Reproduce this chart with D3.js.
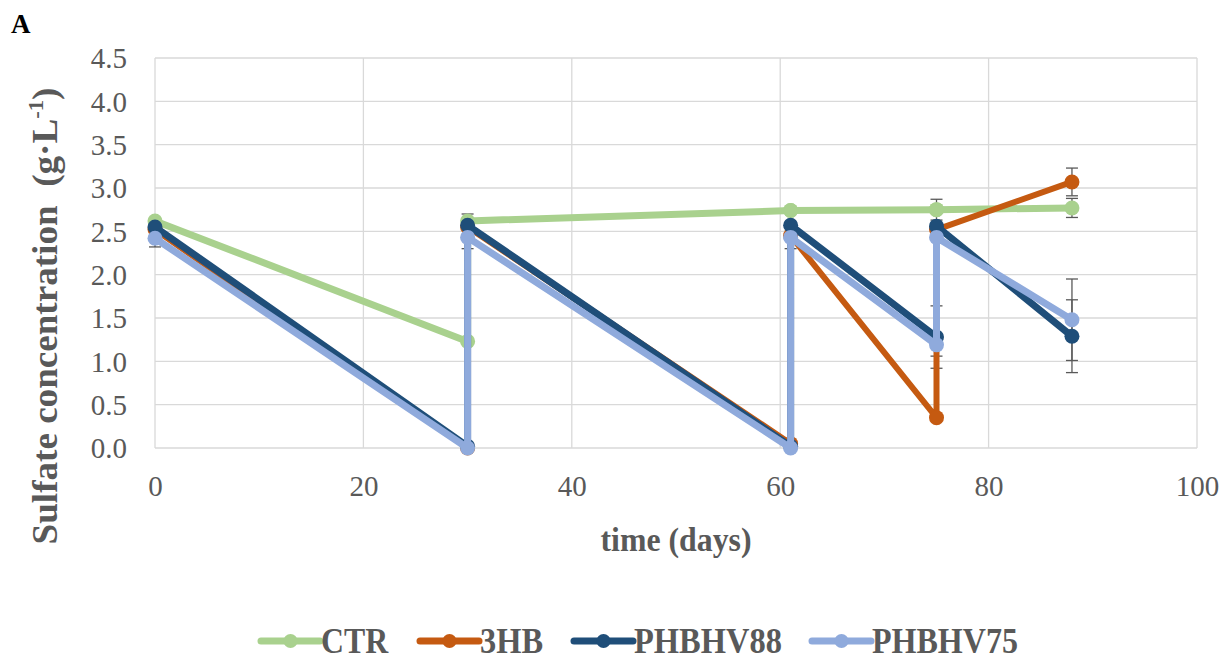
<!DOCTYPE html>
<html lang="en">
<head>
<meta charset="UTF-8">
<title>Sulfate concentration</title>
<style>
    body { margin: 0; background: #fff; }
    svg text { font-family: "Liberation Serif", "Times New Roman", serif; }
</style>
</head>
<body>
<svg id="chart" width="1224" height="661"></svg>
<script src="https://cdn.jsdelivr.net/npm/d3@7"></script>
<script>
    // sampling times (days); repeated times mark the re-feeding jumps
    const times = [0, 30, 30, 61, 61, 75, 75, 88];

    const ctr     = [2.62, 1.23, 2.62, 2.74, 2.74, 2.75, 2.75, 2.77];
    const hb3     = [2.52, 0.00, 2.55, 0.05, 2.45, 0.35, 2.52, 3.07];
    const phbhv88 = [2.55, 0.02, 2.57, 0.02, 2.57, 1.28, 2.56, 1.29];
    const phbhv75 = [2.42, 0.00, 2.43, 0.00, 2.43, 1.19, 2.43, 1.48];

    // standard deviations (0 = no visible bar)
    const ctrErr     = [0, 0, 0.08, 0, 0, 0.12, 0, 0.11];
    const hb3Err     = [0, 0, 0, 0, 0, 0, 0, 0.16];
    const phbhv88Err = [0, 0, 0, 0, 0, 0.36, 0, 0.42];
    const phbhv75Err = [0.10, 0, 0.13, 0, 0.13, 0.13, 0, 0.47];

    const seriesNames = ["CTR", "3HB", "PHBHV88", "PHBHV75"];
    const seriesColors = ["#a9d18e", "#c55a11", "#1f4e79", "#8faadc"];

    const xTicks = [0, 20, 40, 60, 80, 100];
    const yTicks = [0, 0.5, 1, 1.5, 2, 2.5, 3, 3.5, 4, 4.5];

    const series = [
        { name: seriesNames[0], color: seriesColors[0], values: ctr, err: ctrErr, width: 7 },
        { name: seriesNames[1], color: seriesColors[1], values: hb3, err: hb3Err, width: 6 },
        { name: seriesNames[2], color: seriesColors[2], values: phbhv88, err: phbhv88Err, width: 7 },
        { name: seriesNames[3], color: seriesColors[3], values: phbhv75, err: phbhv75Err, width: 7 }
    ];

    const svg = d3.select("#chart");
    const x = d3.scaleLinear().domain([0, 100]).range([155, 1197]);
    const y = d3.scaleLinear().domain([0, 4.5]).range([448, 58]);
    const grey = "#595959";
    const serif = '"Liberation Serif", "Times New Roman", serif';

    // gridlines
    svg.append("g").selectAll("line").data(yTicks).join("line")
        .attr("x1", x(0)).attr("x2", x(100))
        .attr("y1", d => y(d)).attr("y2", d => y(d))
        .attr("stroke", "#d9d9d9").attr("stroke-width", 1.3);
    svg.append("g").selectAll("line").data(xTicks).join("line")
        .attr("x1", d => x(d)).attr("x2", d => x(d))
        .attr("y1", y(0)).attr("y2", y(4.5))
        .attr("stroke", "#d9d9d9").attr("stroke-width", 1.3);

    // axes (labels only)
    const yAxis = svg.append("g")
        .attr("transform", `translate(${x(0)},0)`)
        .call(d3.axisLeft(y).tickValues(yTicks).tickFormat(d3.format(".1f")).tickSize(0).tickPadding(28));
    const xAxis = svg.append("g")
        .attr("transform", `translate(0,${y(0)})`)
        .call(d3.axisBottom(x).tickValues(xTicks).tickSize(0).tickPadding(27));
    [xAxis, yAxis].forEach(a => {
        a.attr("font-family", serif).attr("font-size", 29);
        a.select(".domain").remove();
        a.selectAll("text")
            .attr("fill", grey)
            .attr("font-family", serif)
            .attr("font-size", 29);
    });
    yAxis.selectAll("text").attr("dy", "0.34em");

    // error bars behind the lines
    const errG = svg.append("g");
    series.forEach(s => {
        s.values.forEach((v, i) => {
            const e = s.err[i];
            if (!e) return;
            const cx = x(times[i]);
            errG.append("line")
                .attr("x1", cx).attr("x2", cx)
                .attr("y1", y(v - e)).attr("y2", y(v + e))
                .attr("stroke", grey).attr("stroke-width", 1.3);
            [v - e, v + e].forEach(t => {
                errG.append("line")
                    .attr("x1", cx - 6).attr("x2", cx + 6)
                    .attr("y1", y(t)).attr("y2", y(t))
                    .attr("stroke", grey).attr("stroke-width", 1.3);
            });
        });
    });

    const line = d3.line()
        .x((d, i) => x(times[i]))
        .y(d => y(d));

    series.forEach(s => {
        const g = svg.append("g");
        g.append("path")
            .attr("d", line(s.values))
            .attr("fill", "none")
            .attr("stroke", s.color)
            .attr("stroke-width", s.width)
            .attr("stroke-linejoin", "round");
        g.selectAll("circle").data(s.values).join("circle")
            .attr("cx", (d, i) => x(times[i]))
            .attr("cy", d => y(d))
            .attr("r", 7.5)
            .attr("fill", s.color);
    });

    // fit a text element to a target width by horizontal scaling
    function fitText(sel, width, tx, ty, rot) {
        const w = sel.node().getBBox().width;
        sel.attr("transform", `translate(${tx},${ty}) rotate(${rot}) scale(${width / w},1)`);
    }

    // panel letter
    svg.append("text")
        .attr("x", 11).attr("y", 33)
        .attr("font-size", 27).attr("font-weight", "bold")
        .attr("fill", "#000")
        .text("A");

    // y title
    const yTitle = svg.append("text")
        .attr("text-anchor", "middle")
        .attr("font-size", 36).attr("font-weight", "bold")
        .attr("fill", grey);
    yTitle.append("tspan").text("Sulfate concentration \u00a0(g\u00b7L");
    yTitle.append("tspan").attr("font-size", 22).attr("dy", -14).text("-1");
    yTitle.append("tspan").attr("dy", 14).text(")");
    fitText(yTitle, 457, 57, 316, -90);

    // x title
    const xTitle = svg.append("text")
        .attr("text-anchor", "middle")
        .attr("font-size", 33).attr("font-weight", "bold")
        .attr("fill", grey)
        .text("time (days)");
    fitText(xTitle, 151, 676, 551, 0);

    // legend
    const legendX = [261, 420, 574, 812];
    const legendW = [68, 63, 148, 146];
    const ly = 641;
    series.forEach((s, i) => {
        const g = svg.append("g");
        g.append("line")
            .attr("x1", legendX[i]).attr("x2", legendX[i] + 59)
            .attr("y1", ly).attr("y2", ly)
            .attr("stroke", s.color).attr("stroke-width", 7)
            .attr("stroke-linecap", "round");
        g.append("circle")
            .attr("cx", legendX[i] + 29.5).attr("cy", ly).attr("r", 7)
            .attr("fill", s.color);
        const t = g.append("text")
            .attr("font-size", 36).attr("font-weight", "bold")
            .attr("fill", grey)
            .text(s.name);
        fitText(t, legendW[i], legendX[i] + 60, ly + 12, 0);
    });
</script>
</body>
</html>
